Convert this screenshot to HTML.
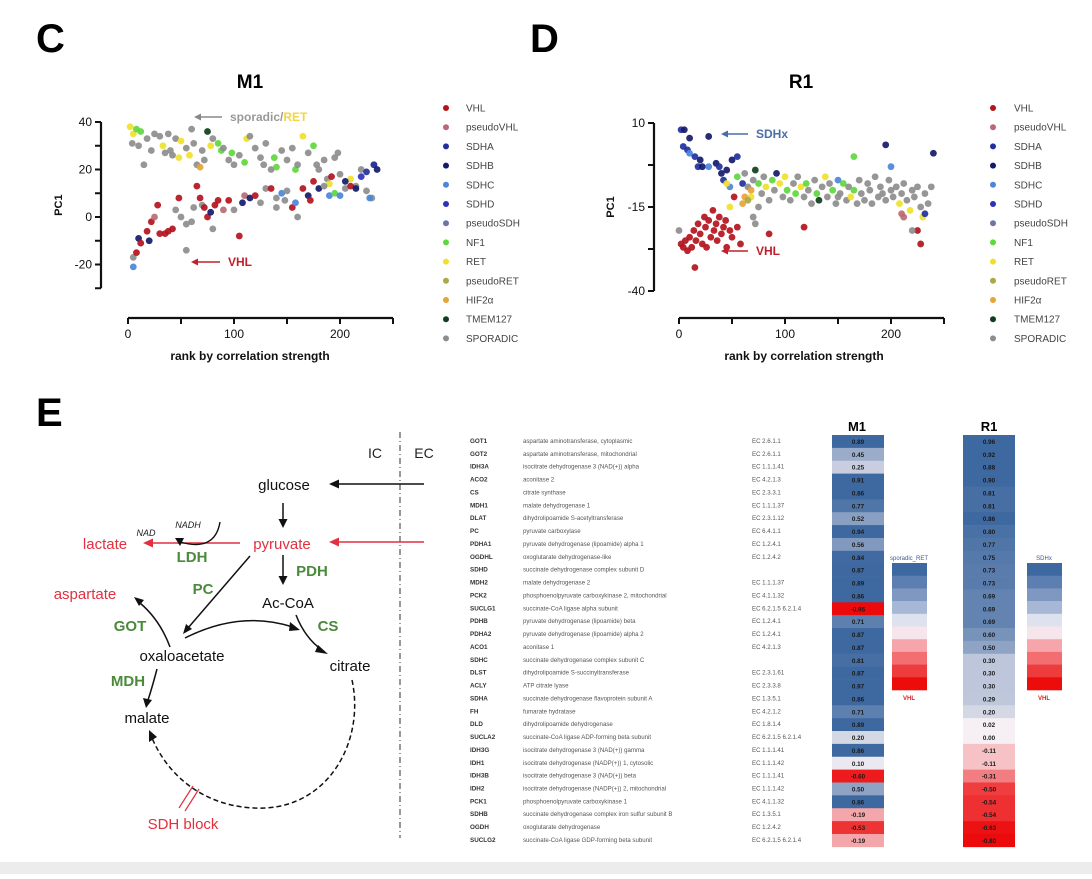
<!DOCTYPE html>
<html><head><meta charset="utf-8">
<style>
html,body{margin:0;padding:0;background:#fff;}
body{width:1092px;height:874px;overflow:hidden;position:relative;font-family:"Liberation Sans",Arial,sans-serif;}
svg text{font-family:"Liberation Sans",Arial,sans-serif;}
</style></head>
<body>
<svg id="fig" width="1092" height="874" viewBox="0 0 1092 874" xmlns="http://www.w3.org/2000/svg">
<rect x="0" y="0" width="1092" height="874" fill="#fff"/>
<rect x="0" y="862" width="1092" height="12" fill="#ececec"/>
<text x="36" y="52" font-size="40" font-weight="bold">C</text>
<text x="530" y="52" font-size="40" font-weight="bold">D</text>
<text x="36" y="426" font-size="40" font-weight="bold">E</text>
<text x="250" y="88" font-size="19" font-weight="bold" text-anchor="middle">M1</text>
<text x="801" y="88" font-size="19" font-weight="bold" text-anchor="middle">R1</text>
<g id="m1"></g>
<g id="r1"></g>
<g id="leg1"></g>
<g id="leg2"></g>
<!-- annotations -->
<g>
<line x1="222" y1="117" x2="198" y2="117" stroke="#888" stroke-width="1.5"/><polygon points="194,117 201,113.5 201,120.5" fill="#888"/>
<text x="230" y="121" font-size="12" font-weight="bold" fill="#999">sporadic/<tspan fill="#f2d640">RET</tspan></text>
<line x1="220" y1="262" x2="196" y2="262" stroke="#c0202a" stroke-width="1.5"/><polygon points="191,262 198,258.5 198,265.5" fill="#c0202a"/>
<text x="228" y="266" font-size="12" font-weight="bold" fill="#c0202a">VHL</text>
</g>
<g>
<line x1="748" y1="134" x2="726" y2="134" stroke="#4a6fa8" stroke-width="1.5"/><polygon points="721,134 728,130.5 728,137.5" fill="#4a6fa8"/>
<text x="756" y="138" font-size="12" font-weight="bold" fill="#4a6fa8">SDHx</text>
<line x1="748" y1="251" x2="726" y2="251" stroke="#c0202a" stroke-width="1.5"/><polygon points="721,251 728,247.5 728,254.5" fill="#c0202a"/>
<text x="756" y="255" font-size="12" font-weight="bold" fill="#c0202a">VHL</text>
</g>
<!-- pathway diagram -->
<g font-size="15">
<line x1="400" y1="432" x2="400" y2="838" stroke="#777" stroke-width="1.5" stroke-dasharray="6,3,1,3"/>
<text x="375" y="458" text-anchor="middle" font-size="14" fill="#222">IC</text>
<text x="424" y="458" text-anchor="middle" font-size="14" fill="#222">EC</text>
<text x="284" y="490" text-anchor="middle" fill="#111">glucose</text>
<line x1="424" y1="484" x2="338" y2="484" stroke="#111" stroke-width="1.5"/><polygon points="329,484 339,479.5 339,488.5" fill="#111"/>
<line x1="283" y1="503" x2="283" y2="520" stroke="#111" stroke-width="1.5"/><polygon points="283,528 278.5,519 287.5,519" fill="#111"/>
<text x="282" y="549" text-anchor="middle" fill="#e23040">pyruvate</text>
<line x1="424" y1="542" x2="338" y2="542" stroke="#e23040" stroke-width="1.5"/><polygon points="329,542 339,537.5 339,546.5" fill="#e23040"/>
<line x1="240" y1="543" x2="152" y2="543" stroke="#e23040" stroke-width="1.5"/><polygon points="143,543 153,538.5 153,547.5" fill="#e23040"/>
<text x="105" y="549" text-anchor="middle" fill="#e23040">lactate</text>
<text x="188" y="528" font-size="9" font-style="italic" text-anchor="middle" fill="#222">NADH</text>
<text x="172" y="528" font-size="9" font-style="italic" text-anchor="middle" fill="#222" transform="translate(-26,8)">NAD</text>
<path d="M220,522 Q215,552 180,542" fill="none" stroke="#111" stroke-width="1.4"/><polygon points="175,538 184,538 180,546" fill="#111"/>
<text x="192" y="562" text-anchor="middle" fill="#4a8a3a" font-weight="bold">LDH</text>
<line x1="283" y1="555" x2="283" y2="577" stroke="#111" stroke-width="1.5"/><polygon points="283,585 278.5,576 287.5,576" fill="#111"/>
<text x="312" y="576" text-anchor="middle" fill="#4a8a3a" font-weight="bold">PDH</text>
<text x="288" y="608" text-anchor="middle" fill="#111">Ac-CoA</text>
<text x="203" y="594" text-anchor="middle" fill="#4a8a3a" font-weight="bold">PC</text>
<line x1="250" y1="556" x2="188" y2="628" stroke="#111" stroke-width="1.5"/><polygon points="183,634 186,624 192,629" fill="#111"/>
<text x="85" y="599" text-anchor="middle" fill="#e23040">aspartate</text>
<text x="130" y="631" text-anchor="middle" fill="#4a8a3a" font-weight="bold">GOT</text>
<path d="M170,647 Q160,620 140,603" fill="none" stroke="#111" stroke-width="1.5"/><polygon points="134,597 144,600 139,606" fill="#111"/>
<text x="182" y="661" text-anchor="middle" fill="#111">oxaloacetate</text>
<path d="M185,638 Q240,610 293,627" fill="none" stroke="#111" stroke-width="1.5"/><polygon points="300,630 290,622 289,631" fill="#111"/>
<path d="M296,615 Q305,638 322,650" fill="none" stroke="#111" stroke-width="1.5"/><polygon points="328,654 318,645 315,652" fill="#111"/>
<text x="328" y="631" text-anchor="middle" fill="#4a8a3a" font-weight="bold">CS</text>
<text x="350" y="671" text-anchor="middle" fill="#111">citrate</text>
<text x="128" y="686" text-anchor="middle" fill="#4a8a3a" font-weight="bold">MDH</text>
<path d="M157,669 Q152,688 148,700" fill="none" stroke="#111" stroke-width="1.5"/><polygon points="146,708 143,698 152,700" fill="#111"/>
<text x="147" y="723" text-anchor="middle" fill="#111">malate</text>
<path d="M352,680 C365,740 330,805 265,808 C210,810 170,780 152,738" fill="none" stroke="#111" stroke-width="1.5" stroke-dasharray="5,3"/>
<polygon points="149,730 149,742 157,737" fill="#111"/>
<line x1="179" y1="808" x2="193" y2="786" stroke="#e23040" stroke-width="1.2"/>
<line x1="185" y1="811" x2="199" y2="789" stroke="#e23040" stroke-width="1.2"/>
<text x="183" y="829" text-anchor="middle" fill="#e23040">SDH block</text>
</g>
<g id="table"></g>
<text x="857" y="431" font-size="13" font-weight="bold" text-anchor="middle">M1</text>
<text x="989" y="431" font-size="13" font-weight="bold" text-anchor="middle">R1</text>
<g id="cb"></g>
</svg>
<script>
const NS="http://www.w3.org/2000/svg";
function mk(tag,attrs,parent){const e=document.createElementNS(NS,tag);for(const k in attrs)e.setAttribute(k,attrs[k]);parent.appendChild(e);return e;}
const groupKeys=["V","PV","A","B","C","D","PS","N","R","PR","H","T","S"];
const groupLabels=["VHL","pseudoVHL","SDHA","SDHB","SDHC","SDHD","pseudoSDH","NF1","RET","pseudoRET","HIF2\u03b1","TMEM127","SPORADIC"];
const groupColors={V:"#b3141e",PV:"#b86a74",A:"#22309e",B:"#141a6a",C:"#4b86dc",D:"#2d32b8",PS:"#6c74ab",N:"#5ed83e",R:"#efe12a",PR:"#a9a84a",H:"#e8a33a",T:"#0d3f1c",S:"#8d8d8d"};

// M1 data
const m1Rank=[2,5,8,12,4,10,18,22,25,30,33,38,40,42,45,48,50,55,58,60,62,65,68,70,72,75,78,80,85,88,90,95,98,100,105,110,112,115,120,125,128,130,135,138,140,145,150,155,158,160,165,170,175,178,180,185,188,190,195,198,200,205,210,215,220,225,230,232,15,35,
5,5,8,10,12,18,20,22,25,28,30,35,38,42,45,48,50,55,60,62,65,68,70,72,75,78,80,82,85,90,95,100,105,108,110,115,120,125,130,135,140,145,148,150,155,158,160,165,170,172,175,180,185,190,192,195,200,205,210,215,220,225,228,232,235,140,55];
const m1Val=[38,35,37,36,31,30,33,28,35,34,30,35,28,26,33,25,32,29,26,37,31,22,21,28,24,36,30,33,31,28,29,24,27,22,26,23,33,34,29,25,22,31,20,25,21,28,24,29,20,22,34,27,30,22,20,24,16,14,25,27,18,12,16,13,20,11,8,22,22,27,
-17,-21,-15,-9,-11,-6,-10,-2,0,5,-7,-7,-6,-5,3,8,0,-3,-2,4,13,8,5,4,0,2,-5,5,7,3,7,3,-8,6,9,8,9,6,12,12,8,10,7,11,4,6,0,12,9,7,15,12,13,9,17,10,9,15,13,12,17,19,8,22,20,4,-14];
const m1Grp=["R","R","N","N","S","S","S","S","S","S","R","S","S","S","S","R","R","S","R","S","S","S","H","S","S","T","R","S","N","N","S","S","N","S","S","N","R","S","S","S","S","S","S","N","N","S","S","S","N","S","R","S","N","S","S","S","S","R","S","S","S","S","R","S","S","S","S","S","S","S",
"S","C","V","B","V","V","B","V","PV","V","V","V","V","V","S","V","S","S","S","S","V","V","S","V","V","B","S","V","V","PV","V","S","V","B","PV","B","V","S","S","V","S","C","S","S","V","C","S","V","B","V","V","B","S","C","V","N","C","B","V","B","D","A","C","A","B","S","S"];

// R1 data
const r1Rank=[2,5,10,28,4,8,10,15,20,18,22,28,35,38,40,42,45,50,55,48,60,45,
55,62,65,68,70,72,75,78,80,82,85,88,90,92,95,98,100,102,105,108,110,112,115,118,120,122,125,128,130,132,135,138,140,142,145,148,150,152,155,158,160,162,165,168,170,172,175,178,180,182,185,188,190,192,195,198,200,202,205,208,210,212,215,218,220,222,225,228,230,232,235,238,165,195,240,200,232,150,
2,4,6,8,10,12,14,15,16,18,20,22,24,25,26,28,30,32,33,35,36,38,40,42,44,45,48,50,52,55,58,60,62,65,68,70,72,0,85,118,210,212,225,228,220,75,48];
const r1Val=[8,8,5.5,6,3,2,1,0,-1,-3,-3,-3,-2,-3,-5,-7,-4,-1,0,-9,-8,-8,
-6,-5,-9,-12,-7,-4,-8,-11,-6,-9,-13,-7,-10,-5,-8,-12,-6,-10,-13,-8,-11,-6,-9,-12,-8,-10,-14,-7,-11,-13,-9,-6,-12,-8,-10,-14,-7,-11,-8,-13,-9,-12,-10,-14,-7,-11,-13,-8,-10,-14,-6,-12,-9,-11,-13,-7,-10,-12,-9,-14,-11,-8,-13,-16,-10,-12,-9,-15,-18,-11,-14,-9,0,3.5,1,-3,-17,-12,
-26,-27,-25,-28,-24,-27,-22,-33,-25,-20,-23,-26,-18,-21,-27,-19,-24,-16,-22,-20,-25,-18,-23,-21,-19,-27,-22,-24,-12,-21,-26,-14,-12,-13,-10,-18,-20,-22,-23,-21,-17,-18,-22,-26,-22,-15,-15];
const r1Grp=["A","B","B","B","A","A","C","A","B","A","B","C","B","A","B","A","B","B","A","C","A","R",
"N","S","S","R","S","T","N","S","S","R","S","N","S","B","R","S","R","N","S","S","N","S","R","S","N","S","S","S","N","T","S","R","S","S","N","S","C","S","N","S","S","R","N","S","S","S","S","S","S","S","S","S","S","S","S","S","S","S","S","R","S","S","S","R","S","S","S","S","R","S","S","S","N","B","B","C","A","S",
"V","V","V","V","V","V","V","V","V","V","V","V","V","V","V","V","V","V","V","V","V","V","V","V","V","V","V","V","V","V","V","H","H","PR","H","S","S","S","V","V","PV","PV","V","V","S","S","R"];

const m1Ticks=[-20,0,20,40];
const r1Ticks=[-40,-15,10];
const xTicks=[0,100,200];

function scatter(g,rank,val,grp,xs,ys,yTicks,yMinorStep,yMin,yMax,axX,yLabX,pc1X,xTitleX){
  // y axis
  const ya=mk("line",{x1:axX,y1:ys(yMax),x2:axX,y2:ys(yMin),stroke:"#111","stroke-width":2.2},g);
  
  
  for(let v=yMin;v<=yMax+0.001;v+=yMinorStep){mk("line",{x1:axX-6,y1:ys(v),x2:axX,y2:ys(v),stroke:"#111","stroke-width":2},g);}
  yTicks.forEach(t=>{const tx=mk("text",{x:axX-9,y:ys(t)+4,"font-size":12,"text-anchor":"end",fill:"#111"},g);tx.textContent=t;
    
    });
  const xa=mk("line",{x1:xs(0),y1:318,x2:xs(250),y2:318,stroke:"#111","stroke-width":2.2},g);
  
  
  for(let v=0;v<=250;v+=50){mk("line",{x1:xs(v),y1:318,x2:xs(v),y2:324,stroke:"#111","stroke-width":2},g);}
  xTicks.forEach(t=>{const tx=mk("text",{x:xs(t),y:338,"font-size":12,"text-anchor":"middle",fill:"#111"},g);tx.textContent=t;
    
    });
  const xt=mk("text",{x:xTitleX,y:360,"font-size":12,"font-weight":"bold","text-anchor":"middle",fill:"#111"},g);xt.textContent="rank by correlation strength";
  
  
  const yt=mk("text",{x:0,y:0,"font-size":11,"font-weight":"bold","text-anchor":"middle",fill:"#111",transform:`translate(${pc1X},${ys((yMin+yMax)/2)}) rotate(-90)`},g);yt.textContent="PC1";
  
  
  for(let i=0;i<rank.length;i++){
    const c=mk("circle",{cx:xs(rank[i]),cy:ys(val[i]),r:3.4,fill:groupColors[grp[i]],"fill-opacity":0.92},g);
    
    
  }
}
const m1x=r=>128+r*1.06, m1y=v=>217-v*2.375;
scatter(document.getElementById("m1"),m1Rank,m1Val,m1Grp,m1x,m1y,m1Ticks,10,-30,40,101,0,62,250);
const r1x=r=>679+r*1.06, r1y=v=>123+(10-v)*3.36;
scatter(document.getElementById("r1"),r1Rank,r1Val,r1Grp,r1x,r1y,r1Ticks,12.5,-40,10,654,0,614,804);

function legend(g,dx,tx,y0,dy){
  groupKeys.forEach((k,i)=>{
    const c=mk("circle",{cx:dx,cy:y0+i*dy,r:3,fill:groupColors[k]},g);
    
    
    const t=mk("text",{x:tx,y:y0+i*dy+3.5,"font-size":10,fill:"#444"},g);t.textContent=groupLabels[i];
    
    
  });
}
legend(document.getElementById("leg1"),446,466,108,19.2);
legend(document.getElementById("leg2"),993,1014,108,19.2);

// table data
const genes=["GOT1","GOT2","IDH3A","ACO2","CS","MDH1","DLAT","PC","PDHA1","OGDHL","SDHD","MDH2","PCK2","SUCLG1","PDHB","PDHA2","ACO1","SDHC","DLST","ACLY","SDHA","FH","DLD","SUCLA2","IDH3G","IDH1","IDH3B","IDH2","PCK1","SDHB","OGDH","SUCLG2"];
const descs=["aspartate aminotransferase, cytoplasmic","aspartate aminotransferase, mitochondrial","isocitrate dehydrogenase 3 (NAD(+)) alpha","aconitase 2","citrate synthase","malate dehydrogenase 1","dihydrolipoamide S-acetyltransferase","pyruvate carboxylase","pyruvate dehydrogenase (lipoamide) alpha 1","oxoglutarate dehydrogenase-like","succinate dehydrogenase complex subunit D","malate dehydrogenase 2","phosphoenolpyruvate carboxykinase 2, mitochondrial","succinate-CoA ligase alpha subunit","pyruvate dehydrogenase (lipoamide) beta","pyruvate dehydrogenase (lipoamide) alpha 2","aconitase 1","succinate dehydrogenase complex subunit C","dihydrolipoamide S-succinyltransferase","ATP citrate lyase","succinate dehydrogenase flavoprotein subunit A","fumarate hydratase","dihydrolipoamide dehydrogenase","succinate-CoA ligase ADP-forming beta subunit","isocitrate dehydrogenase 3 (NAD(+)) gamma","isocitrate dehydrogenase (NADP(+)) 1, cytosolic","isocitrate dehydrogenase 3 (NAD(+)) beta","isocitrate dehydrogenase (NADP(+)) 2, mitochondrial","phosphoenolpyruvate carboxykinase 1","succinate dehydrogenase complex iron sulfur subunit B","oxoglutarate dehydrogenase","succinate-CoA ligase GDP-forming beta subunit"];
const ecs=["EC 2.6.1.1","EC 2.6.1.1","EC 1.1.1.41","EC 4.2.1.3","EC 2.3.3.1","EC 1.1.1.37","EC 2.3.1.12","EC 6.4.1.1","EC 1.2.4.1","EC 1.2.4.2","","EC 1.1.1.37","EC 4.1.1.32","EC 6.2.1.5 6.2.1.4","EC 1.2.4.1","EC 1.2.4.1","EC 4.2.1.3","","EC 2.3.1.61","EC 2.3.3.8","EC 1.3.5.1","EC 4.2.1.2","EC 1.8.1.4","EC 6.2.1.5 6.2.1.4","EC 1.1.1.41","EC 1.1.1.42","EC 1.1.1.41","EC 1.1.1.42","EC 4.1.1.32","EC 1.3.5.1","EC 1.2.4.2","EC 6.2.1.5 6.2.1.4"];
const m1Heat=[0.89,0.45,0.25,0.91,0.86,0.77,0.52,0.94,0.56,0.84,0.87,0.89,0.86,-0.95,0.71,0.87,0.87,0.81,0.87,0.97,0.86,0.71,0.89,0.20,0.86,0.10,-0.60,0.50,0.86,-0.19,-0.53,-0.19];
const r1Heat=[0.96,0.92,0.88,0.90,0.81,0.81,0.86,0.80,0.77,0.75,0.73,0.73,0.69,0.69,0.69,0.60,0.50,0.30,0.30,0.30,0.29,0.20,0.02,0.00,-0.11,-0.11,-0.31,-0.50,-0.54,-0.54,-0.63,-0.80];

function heatColor(v){
  if(v>=0){const t=Math.min(1,Math.max(0,(v-0.05)/0.8));
    const a=[246,240,244],b=[62,104,160];
    return `rgb(${a.map((x,i)=>Math.round(x+(b[i]-x)*t)).join(",")})`;}
  const t=Math.min(1,-v/0.65);const a=[248,232,236],b=[236,10,12];
  return `rgb(${a.map((x,i)=>Math.round(x+(b[i]-x)*t)).join(",")})`;
}
const tg=document.getElementById("table");
const rowY=i=>441+i*12.87;
const cellTop=435, rowH=12.87;
for(let i=0;i<genes.length;i++){
  const y=rowY(i)+2;
  const g1=mk("text",{x:470,y:y,"font-size":6.3,"font-weight":"bold",fill:"#333"},tg);g1.textContent=genes[i];
  
  
  const d1=mk("text",{x:523,y:y,"font-size":6.1,fill:"#555"},tg);d1.textContent=descs[i];
  
  
  const e1=mk("text",{x:752,y:y,"font-size":6.1,fill:"#555"},tg);e1.textContent=ecs[i];
  
  
  [[m1Heat,832,'m1'],[r1Heat,963,'r1']].forEach(([arr,x,nm])=>{
    const r=mk("rect",{x:x,y:cellTop+i*rowH,width:52,height:rowH+0.3,fill:heatColor(arr[i])},tg);
    
    
    const t=mk("text",{x:x+26,y:cellTop+i*rowH+9,"font-size":6.3,"font-weight":"bold","text-anchor":"middle",fill:"#1a1a1a"},tg);t.textContent=arr[i].toFixed(2);
    
    
  });
}
// colorbars
const cbBands=["rgb(62,104,160)","rgb(92,126,176)","rgb(126,152,194)","rgb(166,184,214)","rgb(222,226,238)","rgb(246,230,236)","rgb(246,166,170)","rgb(242,110,112)","rgb(238,60,60)","rgb(236,12,12)"];
const cbg=document.getElementById("cb");
[[892,"sporadic_RET"],[1027,"SDHx"]].forEach(([x,lab])=>{
  cbBands.forEach((c,i)=>{const r=mk("rect",{x:x,y:563+i*12.7,width:35,height:13,fill:c},cbg);
    
    });
  const t=mk("text",{x:x+17,y:560,"font-size":6,"text-anchor":"middle",fill:"#3a5a90"},cbg);t.textContent=lab;
  
  
  const b=mk("text",{x:x+17,y:700,"font-size":6,"font-weight":"bold","text-anchor":"middle",fill:"#e02020"},cbg);b.textContent="VHL";
  
  
});
</script>
</body></html>
